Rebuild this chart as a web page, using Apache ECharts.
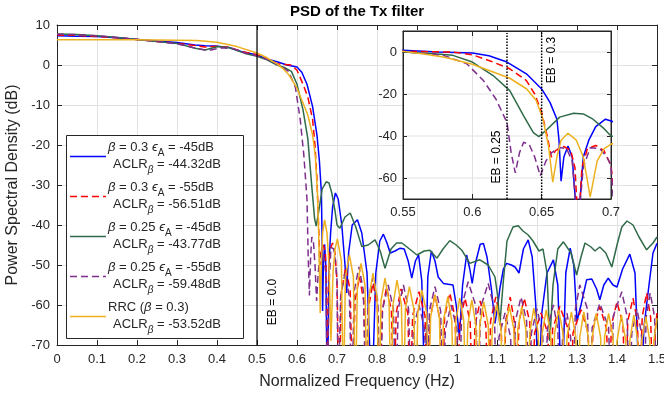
<!DOCTYPE html>
<html><head><meta charset="utf-8">
<script src="https://cdn.jsdelivr.net/npm/echarts@6/dist/echarts.min.js"></script>
<style>html,body{margin:0;padding:0;background:#fff}#c{width:664px;height:397px}</style>
</head><body><div id="c"></div>
<script>
// ---------------- data (x = normalized frequency, y = PSD dB) ----------------
const blueData = [[0,7.3],[0.05,7.2],[0.1,7.1],[0.15,6.8],[0.2,6.4],[0.25,6.0],[0.3,5.6],[0.345,5.0],[0.37,4.8],[0.395,4.75],[0.43,4.4],[0.46,3.4],[0.5,2.5],[0.525,1.5],[0.55,0.8],[0.575,0],[0.6,-0.5],[0.612,-1.8],[0.625,-4.8],[0.639,-10.4],[0.65,-17.6],[0.656,-24],[0.661,-32],[0.6625,-42],[0.664,-61.5],[0.666,-50],[0.669,-44.8],[0.672,-50],[0.676,-85],[0.68,-50],[0.684,-42],[0.689,-35.5],[0.696,-32],[0.703,-33.5],[0.712,-40],[0.72,-50],[0.724,-57],[0.729,-47],[0.738,-40],[0.751,-38.7],[0.762,-42],[0.775,-52],[0.787,-85],[0.797,-52],[0.807,-44],[0.816,-42.3],[0.825,-44.5],[0.833,-47],[0.845,-46.5],[0.858,-45.8],[0.868,-46],[0.878,-49],[0.887,-53.3],[0.896,-49],[0.904,-47.5],[0.912,-54],[0.92,-85],[0.927,-53],[0.936,-46.5],[0.945,-49],[0.953,-53],[0.966,-54.6],[0.99,-55],[0.998,-60],[1.006,-68],[1.014,-55],[1.024,-47.5],[1.032,-51],[1.038,-54.6],[1.045,-50],[1.058,-44.8],[1.066,-44.6],[1.075,-48],[1.086,-56],[1.095,-64.6],[1.102,-60],[1.107,-56],[1.116,-51],[1.124,-49.6],[1.136,-50],[1.145,-50.5],[1.155,-52],[1.166,-46],[1.178,-43.7],[1.188,-48],[1.197,-60],[1.203,-85],[1.212,-62],[1.225,-52],[1.241,-48.7],[1.252,-55],[1.262,-85],[1.272,-52],[1.283,-45.8],[1.292,-50],[1.3,-64],[1.31,-60],[1.324,-53.7],[1.337,-53.5],[1.349,-56],[1.357,-58.7],[1.367,-55],[1.378,-53.3],[1.39,-55],[1.4,-55.5],[1.414,-51],[1.432,-47.3],[1.445,-52],[1.457,-85],[1.468,-65],[1.48,-55],[1.49,-47],[1.5,-44.6]];

const redData = [[0,7.5],[0.05,7.4],[0.1,7.1],[0.15,6.8],[0.2,6.4],[0.25,5.9],[0.3,5.4],[0.35,4.8],[0.37,4.5],[0.4,4.7],[0.43,4.4],[0.47,3.2],[0.5,2.6],[0.525,1.5],[0.55,0.3],[0.586,0],[0.6,-1.3],[0.615,-4.8],[0.627,-8],[0.639,-13.6],[0.645,-20],[0.65,-28.8],[0.654,-40],[0.657,-50],[0.66,-47],[0.666,-45],[0.671,-47],[0.674,-55],[0.6765,-85],[0.679,-55],[0.683,-46],[0.689,-44.5],[0.695,-47],[0.7,-54],[0.705,-85],
[0.711,-56.5],[0.722,-50.5],[0.733,-56.5],[0.739,-85],[0.745,-59],[0.756,-53],[0.767,-59],[0.773,-85],[0.779,-60.5],[0.79,-54.5],[0.801,-60.5],[0.807,-85],[0.813,-61.5],[0.824,-55.5],[0.836,-61.5],[0.842,-85],[0.848,-62],[0.86,-56],[0.877,-62],[0.883,-85],[0.889,-62.7],[0.905,-56.7],[0.92,-62.7],[0.926,-85],[0.932,-63.5],[0.945,-57.5],[0.957,-63.5],[0.963,-85],[0.969,-63],[0.982,-57],[0.995,-63],[1.001,-85],[1.007,-64.3],[1.02,-58.3],[1.033,-64.3],[1.039,-85],[1.045,-65],[1.058,-59],[1.072,-65],[1.078,-85],[1.084,-64],[1.097,-58],[1.11,-64],[1.116,-85],[1.122,-64],[1.133,-58],[1.143,-64],[1.149,-85],[1.155,-64.3],[1.168,-58.3],[1.182,-64.3],[1.188,-85],[1.194,-67],[1.21,-62],[1.227,-67],[1.233,-85],[1.239,-66],[1.257,-60.4],[1.278,-66],[1.284,-85],[1.29,-67],[1.31,-61.2],[1.328,-67],[1.334,-85],[1.34,-66],[1.357,-60.4],[1.374,-66],[1.38,-85],[1.386,-65],[1.4,-59.2],[1.415,-65],[1.421,-85],[1.427,-64],[1.44,-58.3],[1.451,-64],[1.457,-85],[1.463,-63],[1.474,-57],[1.484,-63],[1.49,-85],[1.496,-66],[1.5,-62]];

const greenData = [[0,7.75],[0.05,7.6],[0.1,7.3],[0.15,6.9],[0.2,6.4],[0.25,5.9],[0.3,5.4],[0.345,4.2],[0.37,3.75],[0.403,4.6],[0.43,4.3],[0.47,2.9],[0.5,2.2],[0.525,1.3],[0.55,0],[0.57,-0.7],[0.586,-1.6],[0.6,-4.8],[0.615,-11.2],[0.627,-18.4],[0.637,-30.4],[0.644,-38.4],[0.648,-40.3],[0.654,-36.8],[0.663,-31],[0.673,-29.2],[0.68,-29.5],[0.687,-32],[0.695,-36.5],[0.7,-40],[0.707,-40.8],[0.72,-38],[0.733,-37],[0.747,-40.5],[0.762,-45.4],[0.778,-45],[0.795,-43.7],[0.808,-46.5],[0.82,-50.8],[0.835,-46],[0.849,-44.5],[0.862,-44.5],[0.875,-45.5],[0.9,-47.5],[0.918,-46.5],[0.932,-46.3],[0.95,-48.3],[0.965,-46],[0.982,-43.9],[0.998,-45],[1.012,-46.3],[1.032,-49.6],[1.057,-48.7],[1.078,-50],[1.095,-53],[1.102,-58],[1.107,-65],[1.115,-55],[1.125,-44],[1.14,-40.5],[1.153,-40.2],[1.165,-41.5],[1.178,-42.5],[1.19,-44],[1.205,-46.5],[1.215,-46],[1.225,-52],[1.232,-69],[1.24,-55],[1.252,-46],[1.266,-44.2],[1.285,-47],[1.299,-52.5],[1.31,-48],[1.32,-44.5],[1.335,-45.5],[1.345,-46.5],[1.357,-45.5],[1.372,-47],[1.387,-50.5],[1.4,-45],[1.412,-40.5],[1.425,-39],[1.44,-40],[1.455,-43],[1.474,-46.2],[1.49,-44.5],[1.5,-43]];

const purpleData = [[0,7.7],[0.05,7.6],[0.1,7.3],[0.15,6.9],[0.2,6.4],[0.25,5.9],[0.3,5.3],[0.34,4.4],[0.378,3.6],[0.41,4.3],[0.44,4.1],[0.47,3.0],[0.5,2.3],[0.525,1.4],[0.55,0.2],[0.579,-1.6],[0.596,-5.6],[0.608,-13.6],[0.617,-22.4],[0.625,-33.6],[0.628,-48],[0.631,-57.6],[0.634,-48],[0.637,-43],[0.641,-44],[0.645,-50],[0.649,-59],[0.653,-52],[0.657,-48],[0.663,-45.5],[0.668,-46],[0.672,-52],[0.676,-85],[0.68,-55],[0.685,-45.6],[0.692,-46],[0.697,-50],[0.7,-54],[0.703,-85],
[0.709,-58],[0.72,-52],[0.731,-58],[0.737,-85],[0.743,-56.5],[0.755,-50.5],[0.766,-56.5],[0.772,-85],[0.778,-59],[0.79,-53],[0.802,-59],[0.808,-85],[0.814,-61],[0.828,-55],[0.841,-61],[0.847,-85],[0.853,-61],[0.866,-55],[0.879,-61],[0.885,-85],[0.891,-66],[0.905,-60],[0.919,-66],[0.925,-85],[0.931,-61.4],[0.945,-55.4],[0.959,-61.4],[0.965,-85],[0.971,-66],[0.985,-60],[1.0,-66],[1.006,-85],[1.012,-60.2],[1.028,-54.2],[1.047,-60.2],[1.053,-85],[1.059,-60.6],[1.078,-54.6],[1.093,-60.6],[1.099,-85],[1.105,-68],[1.12,-62],[1.134,-68],[1.14,-85],[1.146,-64],[1.16,-58],[1.174,-64],[1.18,-85],[1.186,-67],[1.2,-61],[1.214,-67],[1.22,-85],[1.226,-66],[1.241,-60],[1.252,-66],[1.258,-85],[1.264,-68],[1.275,-62],[1.284,-68],[1.29,-85],[1.296,-61],[1.307,-55],[1.326,-61],[1.332,-85],[1.338,-65.6],[1.357,-59.6],[1.379,-65.6],[1.385,-85],[1.391,-62.7],[1.412,-56.7],[1.425,-62.7],[1.431,-85],[1.437,-67],[1.45,-61],[1.461,-67],[1.467,-85],[1.473,-63],[1.483,-57],[1.494,-63],[1.5,-85]];

const orangeData = [[0,6.3],[0.1,6.3],[0.2,6.3],[0.3,6.2],[0.35,6.1],[0.4,5.7],[0.45,4.6],[0.5,3.0],[0.525,1.8],[0.55,0.3],[0.565,-0.9],[0.58,-2.5],[0.6,-5.8],[0.615,-9.5],[0.627,-12.5],[0.639,-17.5],[0.646,-23],[0.651,-32],[0.655,-45],[0.658,-62],[0.661,-50],[0.664,-42],[0.669,-38.7],[0.675,-42],[0.68,-50],[0.685,-69],[0.69,-52],[0.695,-46],[0.701,-43.5],
[0.711,-49],[0.716,-85],[0.721,-53],[0.731,-47.5],[0.741,-53],[0.746,-85],[0.751,-55],[0.76,-49.6],[0.77,-55],[0.775,-85],[0.78,-58],[0.79,-52],[0.8,-58],[0.805,-85],[0.81,-59],[0.82,-53.3],[0.83,-59],[0.835,-85],[0.84,-60],[0.85,-53.8],[0.861,-60],[0.866,-85],[0.871,-61],[0.881,-55.4],[0.892,-61],[0.897,-85],[0.902,-62],[0.912,-56.2],[0.924,-62],[0.929,-85],[0.934,-63],[0.945,-57.5],[0.956,-63],[0.961,-85],[0.966,-64],[0.977,-57.9],[0.987,-64],[0.992,-85],[0.997,-64],[1.007,-58.3],[1.017,-64],[1.022,-85],[1.027,-65],[1.037,-58.7],[1.047,-65],[1.052,-85],[1.057,-65],[1.067,-59.2],[1.078,-65],[1.083,-85],[1.088,-66],[1.099,-60],[1.11,-66],[1.115,-85],[1.12,-66],[1.131,-60.4],[1.142,-66],[1.147,-85],[1.152,-66],[1.162,-60.4],[1.172,-66],[1.177,-85],[1.182,-67],[1.192,-60.8],[1.203,-67],[1.208,-85],[1.213,-67],[1.223,-61.2],[1.234,-67],[1.239,-85],[1.244,-67],[1.254,-61.2],[1.265,-67],[1.27,-85],[1.275,-68],[1.286,-61.7],[1.297,-68],[1.302,-85],[1.307,-68],[1.317,-61.7],[1.328,-68],[1.333,-85],[1.338,-68],[1.348,-62.1],[1.359,-68],[1.364,-85],[1.369,-68],[1.379,-62.1],[1.39,-68],[1.395,-85],[1.4,-69],[1.411,-62.5],[1.422,-69],[1.427,-85],[1.432,-69],[1.442,-62.5],[1.452,-69],[1.457,-85],[1.462,-69],[1.472,-62.9],[1.482,-69],[1.487,-85],[1.492,-69],[1.5,-63.3]];

// edge-band markers
const ebMainX = 0.5;                 // EB = 0.0
const ebInsetX = [0.625, 0.65];      // EB = 0.25, EB = 0.3
const ebInsetTop = [9, 10];
const ebLabels = ['EB = 0.0', 'EB = 0.25', 'EB = 0.3'];

// axes ranges / ticks
const mainX = [0, 1.5, 0.1];
const mainY = [-70, 10, 10];
const insetX = [0.55, 0.7, 0.05];
const insetY = [-70, 10];
const insetYTicks = [-60, -40, -20, 0];

// legend text
const legendL1 = ['{g|β} = 0.3 {g|ϵ}{s|A} = -45dB', '{g|β} = 0.3 {g|ϵ}{s|A} = -55dB', '{g|β} = 0.25 {g|ϵ}{s|A} = -45dB', '{g|β} = 0.25 {g|ϵ}{s|A} = -55dB', 'RRC ({g|β} = 0.3)'];
const legendL2 = ['ACLR{sg|β} = -44.32dB', 'ACLR{sg|β} = -56.51dB', 'ACLR{sg|β} = -43.77dB', 'ACLR{sg|β} = -59.48dB', 'ACLR{sg|β} = -53.52dB'];
const titleText = 'PSD of the Tx filter';
const xName = 'Normalized Frequency (Hz)';
const yName = 'Power Spectral Density (dB)';

// ---------------- styling ----------------
const FONT = '"Liberation Sans", Arial, Helvetica, sans-serif';
const TXT = '#262626';
const GRIDC = '#e2e2e2';
const styles = [
  {data: blueData,   color: '#0000ff', type: 'solid'},
  {data: redData,    color: '#ff0000', type: [7, 4]},
  {data: greenData,  color: '#2f6b48', type: 'solid'},
  {data: purpleData, color: '#7e2f8e', type: [7, 4]},
  {data: orangeData, color: '#edb120', type: 'solid'}
];

function valAxis(gi, pos, min, max, interval, opts) {
  return Object.assign({
    type: 'value', gridIndex: gi, position: pos, min: min, max: max, interval: interval,
    axisLine: {show: true, onZero: false, lineStyle: {color: TXT, width: 1}},
    axisTick: {show: true, inside: true, length: 5, lineStyle: {color: TXT, width: 1}},
    axisLabel: {show: false},
    splitLine: {show: false}
  }, opts || {});
}
const lbl = (m) => ({show: true, color: TXT, fontSize: 13, fontFamily: FONT, margin: m});

const series = [];
styles.forEach(s => {
  series.push({type: 'line', xAxisIndex: 0, yAxisIndex: 0, data: s.data, symbol: 'none', showSymbol: false,
    lineStyle: {color: s.color, width: 1.5, type: s.type}, z: 2, animation: false, silent: true});
});
series.push({type: 'line', xAxisIndex: 0, yAxisIndex: 0, data: [[ebMainX, mainY[0]], [ebMainX, mainY[1]]],
  symbol: 'none', lineStyle: {color: '#000', width: 1.2}, z: 2, animation: false, silent: true});

// inset grid lines (horizontal) at the labelled ticks
const insetGridData = [];
insetYTicks.forEach(v => { insetGridData.push([insetX[0], v], [insetX[1], v], [insetX[1], '-']); });
series.push({type: 'line', xAxisIndex: 2, yAxisIndex: 2, data: insetGridData, symbol: 'none', connectNulls: false,
  lineStyle: {color: GRIDC, width: 1}, z: 2, animation: false, silent: true});
styles.forEach(s => {
  series.push({type: 'line', xAxisIndex: 2, yAxisIndex: 2, data: s.data, symbol: 'none', showSymbol: false,
    lineStyle: {color: s.color, width: 1.5, type: s.type}, z: 4, animation: false, silent: true});
});
ebInsetX.forEach((x, i) => {
  series.push({type: 'line', xAxisIndex: 2, yAxisIndex: 2, data: [[x, insetY[0]], [x, ebInsetTop[i]]],
    symbol: 'none', lineStyle: {color: '#000', width: 1.5, type: [1.5, 1.5]}, z: 5, animation: false, silent: true});
});

// legend graphic
const legendGraphic = [{type: 'rect', shape: {x: 66.5, y: 135.5, width: 177, height: 203},
  style: {fill: '#fff', stroke: TXT, lineWidth: 1}, z: 100}];
const rich = {
  g: {fontStyle: 'italic', fontSize: 13, fontFamily: FONT, fill: TXT, lineHeight: 22, verticalAlign: 'middle'},
  s: {fontSize: 10, fontFamily: FONT, fill: TXT, lineHeight: 10, verticalAlign: 'bottom'},
  sg: {fontStyle: 'italic', fontSize: 10, fontFamily: FONT, fill: TXT, lineHeight: 10, verticalAlign: 'bottom'}
};
styles.forEach((s, i) => {
  const yL = 156.5 + 40 * i;
  legendGraphic.push({type: 'line', shape: {x1: 70, y1: yL, x2: 106, y2: yL},
    style: {stroke: s.color, lineWidth: 1.5, lineDash: Array.isArray(s.type) ? s.type : null}, z: 101});
  legendGraphic.push({type: 'text', x: 108, y: 147 + 40 * i, z: 101,
    style: {text: legendL1[i], fontSize: 13, fontFamily: FONT, fill: TXT, lineHeight: 22, textAlign: 'left', textVerticalAlign: 'middle', rich: rich}});
  legendGraphic.push({type: 'text', x: 113, y: 164 + 40 * i, z: 101,
    style: {text: legendL2[i], fontSize: 13, fontFamily: FONT, fill: TXT, lineHeight: 22, textAlign: 'left', textVerticalAlign: 'middle', rich: rich}});
});

const chart = echarts.init(document.getElementById('c'), null, {renderer: 'canvas'});
chart.setOption({
  animation: false,
  backgroundColor: '#fff',
  grid: [
    {left: 57, top: 25, width: 600, height: 320, show: false, containLabel: false, outerBoundsMode: 'none'},
    {left: 403, top: 31, width: 208, height: 168, show: true, backgroundColor: '#fff', borderColor: TXT, borderWidth: 1, z: 1, containLabel: false, outerBoundsMode: 'none'}
  ],
  xAxis: [
    valAxis(0, 'bottom', mainX[0], mainX[1], mainX[2], {axisLabel: lbl(8), splitLine: {show: true, lineStyle: {color: GRIDC, width: 1}},
      name: xName, nameLocation: 'middle', nameGap: 29, nameTextStyle: {color: TXT, fontSize: 16, fontFamily: FONT}}),
    valAxis(0, 'top', mainX[0], mainX[1], mainX[2]),
    valAxis(1, 'bottom', insetX[0], insetX[1], insetX[2], {axisLabel: lbl(7), splitLine: {show: true, lineStyle: {color: GRIDC, width: 1}}, z: 3}),
    valAxis(1, 'top', insetX[0], insetX[1], insetX[2], {z: 3})
  ],
  yAxis: [
    valAxis(0, 'left', mainY[0], mainY[1], mainY[2], {axisLabel: lbl(7), splitLine: {show: true, lineStyle: {color: GRIDC, width: 1}},
      name: yName, nameLocation: 'middle', nameGap: 31, nameRotate: 90, nameTextStyle: {color: TXT, fontSize: 16, fontFamily: FONT}}),
    valAxis(0, 'right', mainY[0], mainY[1], mainY[2]),
    valAxis(1, 'left', insetY[0], insetY[1], 10, {z: 3,
      axisLabel: Object.assign(lbl(6), {customValues: insetYTicks, formatter: v => (Math.abs(v % 20) < 1e-9 ? String(v) : '')}),
      axisTick: {show: true, inside: true, length: 4, customValues: insetYTicks, lineStyle: {color: TXT}}}),
    valAxis(1, 'right', insetY[0], insetY[1], 10, {z: 3,
      axisTick: {show: true, inside: true, length: 4, customValues: insetYTicks, lineStyle: {color: TXT}}})
  ],
  series: series,
  graphic: [
    {type: 'text', x: 357, y: 12, z: 50, style: {text: titleText, fontSize: 15, fontWeight: 'bold', fontFamily: FONT, fill: '#000', textAlign: 'center', textVerticalAlign: 'middle'}},
    {type: 'text', x: 273, y: 302, rotation: Math.PI / 2, z: 50, style: {text: ebLabels[0], fontSize: 12, fontFamily: FONT, fill: '#000', textAlign: 'center', textVerticalAlign: 'middle'}},
    {type: 'text', x: 497, y: 157, rotation: Math.PI / 2, z: 50, style: {text: ebLabels[1], fontSize: 12, fontFamily: FONT, fill: '#000', textAlign: 'center', textVerticalAlign: 'middle'}},
    {type: 'text', x: 552, y: 60, rotation: Math.PI / 2, z: 50, style: {text: ebLabels[2], fontSize: 12, fontFamily: FONT, fill: '#000', textAlign: 'center', textVerticalAlign: 'middle'}}
  ].concat(legendGraphic)
});
</script></body></html>
